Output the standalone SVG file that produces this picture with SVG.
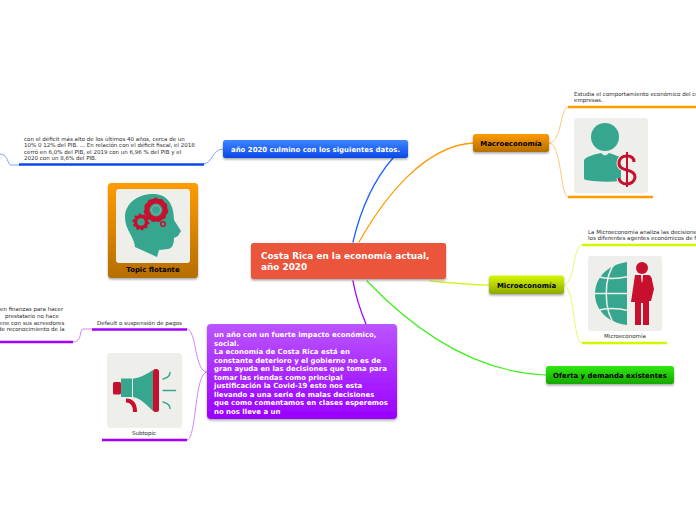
<svg xmlns="http://www.w3.org/2000/svg" width="696" height="520" viewBox="0 0 696 520">
<style>
text{font-family:"DejaVu Sans",Verdana,sans-serif}
.b{font-weight:bold;font-size:6.95px}
.h{font-weight:bold;font-size:8.9px;fill:#fff}
.w{fill:#fff}
.k{fill:#000}
.s{font-size:5.52px;fill:#2b2b2b}
.c{fill:none;stroke-linecap:round}
.u{fill:none;stroke-width:2.500}
.th{stroke-width:1}
.tile{fill:#eeefeb}
.t{fill:#36a68f}
.r{fill:#c8102e}
.node{filter:url(#sh)}
</style>
<defs>
<filter id="sh" x="-10%" y="-20%" width="120%" height="150%"><feDropShadow dx="0" dy="1.5" stdDeviation="1" flood-color="#000" flood-opacity=".35"/></filter>
<linearGradient id="blue" x1="0" y1="0" x2="0" y2="1"><stop offset="0" stop-color="#3f86ff"/><stop offset="1" stop-color="#0a48e8"/></linearGradient>
<linearGradient id="orange" x1="0" y1="0" x2="0" y2="1"><stop offset="0" stop-color="#ff9c00"/><stop offset="1" stop-color="#b56e05"/></linearGradient>
<linearGradient id="lime" x1="0" y1="0" x2="0" y2="1"><stop offset="0" stop-color="#d6f900"/><stop offset="1" stop-color="#8fa800"/></linearGradient>
<linearGradient id="green" x1="0" y1="0" x2="0" y2="1"><stop offset="0" stop-color="#2fe80e"/><stop offset="1" stop-color="#16a800"/></linearGradient>
<linearGradient id="purple" x1="0" y1="0" x2="0" y2="1"><stop offset="0" stop-color="#bb55ff"/><stop offset="1" stop-color="#9a00ff"/></linearGradient>
</defs>

<g id="connectors">
<path class="c" stroke="#1f62ff" stroke-width="1.300" d="M353 242C360 212 372 182 393 158"/>
<path class="c" stroke="#ff9c00" stroke-width="1.300" d="M359 242C385 196 425 146 473 143"/>
<path class="c" stroke="#cdf500" stroke-width="1.100" d="M430 281C452 283 470 285 489 285"/>
<path class="c" stroke="#3cf018" stroke-width="1.200" d="M367 281C410 326 470 372 546 375"/>
<path class="c" stroke="#a100ff" stroke-width="1.300" d="M353 281C356 298 361 312 366 324"/>
<path class="c th" stroke="#7aa4ff" d="M223 149C212 149 212 164 204 164"/>
<path class="c th" stroke="#7aa4ff" d="M19 165H11C7 165 9 154 0 154"/>
<path class="c th" stroke="#ffc875" d="M549 143C562 143 560 107 568 107"/>
<path class="c th" stroke="#ffc875" d="M549 143C562 143 560 197 568 197"/>
<path class="c th" stroke="#e4fa70" d="M563 285C576 285 572 245 582 245"/>
<path class="c th" stroke="#e4fa70" d="M563 285C576 285 572 343 582 343"/>
<path class="c th" stroke="#cf8aff" d="M207 372C194 372 197 329 187 329"/>
<path class="c th" stroke="#cf8aff" d="M207 372C194 372 197 440 187 440"/>
<path class="c th" stroke="#cf8aff" d="M92 329H83C79 329 83 342 73 342"/>
<path class="u" stroke="#0a48e8" d="M19 164.500H204"/>
<path class="u" stroke="#a100ff" d="M0 342H73"/>
<path class="u" stroke="#a100ff" d="M92 329.500H187"/>
<path class="u" stroke="#a100ff" d="M102 440H187"/>
<path class="u" stroke="#ff9c00" d="M568 107H696"/>
<path class="u" stroke="#ff9c00" d="M568 197H653"/>
<path class="u" stroke="#d2f700" d="M582 245H696"/>
<path class="u" stroke="#d2f700" d="M582 343H667"/>
</g>

<g id="node-central"><rect class="node" x="251" y="243" width="195" height="36" rx="2.500" fill="#ea553b"/>
<text x="261" y="259" class="h">Costa Rica en la economía actual,</text>
<text x="261" y="270" class="h">año 2020</text></g>

<g id="node-2020"><rect class="node" x="223" y="140" width="185" height="18" rx="2.500" fill="url(#blue)"/>
<text x="231" y="152" class="b w">año 2020 culmino con los siguientes datos.</text></g>

<g id="node-deficit">
<text class="s" x="24" y="141">con el déficit más alto de los últimos 40 años, cerca de un</text>
<text class="s" x="24" y="147">10% 0 12% del PIB. ... En relación con el déficit fiscal, el 2018</text>
<text class="s" x="24" y="153.500">cerró en 6,0% del PIB, el 2019 con un 6,96 % del PIB y el</text>
<text class="s" x="24" y="160">2020 con un 8,6% del PIB.</text></g>

<g id="node-flotante"><rect class="node" x="108" y="183" width="90" height="95" rx="3.500" fill="url(#orange)"/>
<rect class="tile" x="116" y="189" width="74" height="74" rx="3"/>
<path class="t" d="M153 194C137 194 125 204 125 217C125 230 134 236 135 247L157 257L159 250L168 249C173 248 174 243 174 238L178 236L181 231L174 220C174 204 167 194 153 194Z"/>
<g fill="none" stroke="#c8102e">
<circle cx="156" cy="210" r="9" stroke-width="5"/><circle cx="156" cy="210" r="11" stroke-width="2.500" stroke-dasharray="3.100 3.100"/>
<circle cx="141" cy="222" r="5.500" stroke-width="3.500"/><circle cx="141" cy="222" r="7.500" stroke-width="2" stroke-dasharray="2.300 2.400"/>
<circle cx="163" cy="224" r="2.300" stroke-width="1.500"/></g>
<circle cx="156" cy="210" r="4.500" fill="none" stroke="#e9a0ac" stroke-width=".6"/>
<text x="153" y="272" class="b k" text-anchor="middle">Topic flotante</text></g>

<g id="node-macro"><rect class="node" x="473" y="134" width="76" height="18" rx="2.500" fill="url(#orange)"/>
<text x="511" y="146" class="b k" text-anchor="middle">Macroeconomía</text></g>
<g id="node-macro-text">
<text class="s" x="574" y="96">Estudia el comportamiento económico del co</text>
<text class="s" x="574" y="102">empresas.</text></g>
<g id="node-macro-img"><rect class="tile" x="574" y="118" width="74" height="75" rx="3"/>
<circle class="t" cx="605" cy="137" r="14"/>
<path class="t" d="M584 160C587 156 596 154 601 153L604 155.500H606L609 153C613 154 618 156 621 158V181C610 182 597 182 586 180C585 180 584 179 584 178Z"/>
<path d="M604 155.500H606L607 162L605 165L603 162Z" class="t"/>
<g fill="none" stroke="#eeefeb" stroke-width="5"><path d="M634 162C634 157 630 156 627 156C622 156 619 159 619 163C619 168 623 169 627 170C631 171 635 173 635 177C635 181 631 184 627 184C622 184 619 181 619 178"/></g>
<g fill="none" stroke="#c8102e"><path stroke-width="3" d="M634 162C634 157 630 156 627 156C622 156 619 159 619 163C619 168 623 169 627 170C631 171 635 173 635 177C635 181 631 184 627 184C622 184 619 181 619 178"/><path stroke-width="2" d="M627 152V187"/></g></g>

<g id="node-micro"><rect class="node" x="489" y="275.500" width="75" height="18.500" rx="2.500" fill="url(#lime)"/>
<text x="526.500" y="288" class="b k" text-anchor="middle">Microeconomía</text></g>
<g id="node-micro-text">
<text class="s" x="588" y="234">La Microeconomía analiza las decisione</text>
<text class="s" x="588" y="240">los diferentes agentes económicos de f</text></g>
<g id="node-micro-img"><rect class="tile" x="588" y="256" width="74" height="75" rx="3"/>
<path class="t" d="M627 262C608 265 595 277 595 294C595 310 608 323 627 325Z"/>
<g fill="none" stroke="#eeefeb"><path stroke-width="1.500" d="M597 276.500C606 279 618 279 628 276.500M595 293.500H628M597 310.500C606 308 618 308 628 310.500"/><path stroke-width="1.500" d="M616 262C603 276 603 311 616 326"/></g>
<circle class="r" cx="642" cy="268" r="6"/>
<path class="r" d="M635 275H649C651 276 652 278 652 280L654 289L651 301H649V325H643V303H641V325H635V302H631Z"/>
<path d="M641 275H643L642.500 281L642 283L641.500 281Z" fill="#eeefeb"/>
<text class="s" x="625" y="338" text-anchor="middle">Microeconomía</text></g>

<g id="node-oferta"><rect class="node" x="546" y="366" width="128" height="18" rx="2.500" fill="url(#green)"/>
<text x="610" y="378" class="b k" text-anchor="middle">Oferta y demanda existentes</text></g>

<g id="node-anio"><rect class="node" x="207" y="324" width="190" height="95" rx="4" fill="url(#purple)"/>
<g class="b w">
<text x="214" y="337">un año con un fuerte impacto económico,</text>
<text x="214" y="345.500">social.</text>
<text x="214" y="354">La economía de Costa Rica está en</text>
<text x="214" y="362.500">constante deterioro y el gobierno no es de</text>
<text x="214" y="371">gran ayuda en las decisiones que toma para</text>
<text x="214" y="379.500">tomar las riendas como principal</text>
<text x="214" y="388">justificación la Covid-19 esto nos esta</text>
<text x="214" y="396.500">llevando a una serie de malas decisiones</text>
<text x="214" y="405">que como comentamos en clases esperemos</text>
<text x="214" y="413.500">no nos lleve a un</text>
</g></g>

<g id="node-default"><text class="s" x="139.500" y="325" text-anchor="middle">Default o suspensión de pagos</text></g>
<g id="node-default-text">
<text class="s" x="0" y="311">en finanzas para hacer</text>
<text class="s" x="5" y="318">prestatario no hace</text>
<text class="s" x="-1" y="324.500">ene con sus acreedores</text>
<text class="s" x="-2" y="331">de reconocimiento de la</text></g>

<g id="node-subtopic"><rect class="tile" x="107" y="353" width="75" height="75" rx="3"/>
<rect class="r" x="113" y="382" width="8" height="12.500" rx="1.500"/>
<path class="t" d="M121 378.500H132V397H121Z"/>
<path class="t" d="M133 378.500C140 378 147 374 153 370V411C147 405 140 398 133 397Z"/>
<rect class="r" x="153" y="369" width="6" height="43" rx="2.500"/>
<path fill="none" stroke="#c8102e" stroke-width="4" d="M126 400.500C132 400.500 135 404 135 412"/>
<path fill="none" stroke="#36a68f" stroke-width="1.500" stroke-linecap="round" d="M163 379C167 378 170 376 170 372.500M163 390.500H175.500M163 402C167 403 170 405 170 408.500"/>
<text class="s" x="144" y="435" text-anchor="middle">Subtopic</text></g>
</svg>
